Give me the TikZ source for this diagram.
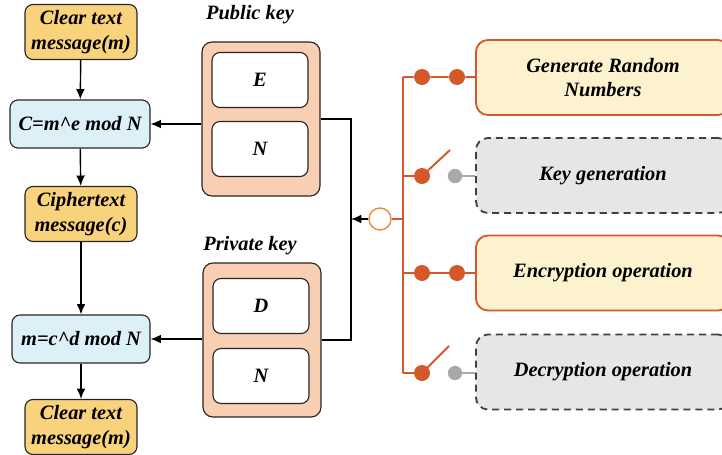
\documentclass[tikz,border=0pt]{standalone}
\usepackage{fontspec}
\setmainfont{Liberation Serif}[BoldItalicFont={Liberation Serif Bold Italic}]
\usetikzlibrary{arrows.meta}

\definecolor{msgyellow}{HTML}{F9D27C}
\definecolor{mathblue}{HTML}{DDEFF7}
\definecolor{keypeach}{HTML}{F8CFB2}
\definecolor{oporange}{HTML}{D4582A}
\definecolor{hubor}{HTML}{EE8A3C}
\definecolor{opyellow}{HTML}{FDF2CE}
\definecolor{opgray}{HTML}{E6E6E6}
\definecolor{dotgray}{HTML}{A9A9A9}

\begin{document}
\begin{tikzpicture}[
				x=0.025cm, y=-0.025cm,
				every node/.style={font=\fontsize{14.5}{17.5}\selectfont\bfseries\itshape, align=center},
				msgbox/.style={draw=black!85, line width=0.8pt, fill=msgyellow, rounded corners=0.2cm, minimum width=2.8cm, minimum height=1.375cm, inner sep=0pt},
				mathbox/.style={draw=black!85, line width=0.8pt, fill=mathblue, rounded corners=0.2cm, minimum height=1.2cm, inner sep=0pt},
				keybox/.style={draw=black!85, line width=0.8pt, fill=keypeach, rounded corners=0.25cm, minimum width=2.95cm, minimum height=3.85cm, inner sep=0pt},
				keyfield/.style={draw=black!85, line width=0.8pt, fill=white, rounded corners=0.2cm, minimum width=2.4cm, minimum height=1.375cm, inner sep=0pt},
				stepon/.style={draw=oporange, line width=1.3pt, fill=opyellow, rounded corners=0.3cm, minimum width=6.35cm, minimum height=1.875cm},
				stepoff/.style={draw=black!75, dash pattern=on 5pt off 3.5pt, line width=1.3pt, fill=opgray, rounded corners=0.3cm, minimum width=6.35cm, minimum height=1.875cm},
				ondot/.style={circle, fill=oporange, minimum size=0.4cm, inner sep=0pt},
				offdot/.style={circle, fill=dotgray, minimum size=0.36cm, inner sep=0pt},
				link/.style={line width=1pt},
				tip/.style={-{Latex[length=2.6mm, width=2.2mm]}},
				wire/.style={draw=oporange, line width=1.4pt},
				gwire/.style={draw=dotgray, line width=1pt},
			]
			\useasboundingbox (0,0) rectangle (722,454);

			% message flow
			\node[msgbox] (clr1) at (81,32) {Clear text\\message(m)};
			\node[mathbox, minimum width=3.5cm] (enc) at (80,124) {C=m\textasciicircum{}e mod N};
			\node[msgbox] (ciph) at (81,214) {Ciphertext\\message(c)};
			\node[mathbox, minimum width=3.45cm] (dec) at (81,339) {m=c\textasciicircum{}d mod N};
			\node[msgbox] (clr2) at (81,427) {Clear text\\message(m)};
			\draw[link, tip] (clr1) -- (enc);
			\draw[link, tip] (enc) -- (ciph);
			\draw[link, tip] (ciph) -- (dec);
			\draw[link, tip] (dec) -- (clr2);

			% keys
			\node (publbl) at (250,15) {Public key};
			\node[keybox] (pub) at (261,119) {};
			\node[keyfield] (fe) at (260,80) {E};
			\node[keyfield] (fn1) at (260,149) {N};
			\node (privlbl) at (250,246) {Private key};
			\node[keybox] (priv) at (262,340) {};
			\node[keyfield] (fd) at (261,306) {D};
			\node[keyfield] (fn2) at (261,376) {N};
			\draw[link, tip] (pub.west |- enc) -- (enc.east);
			\draw[link, tip] (priv.west |- dec) -- (dec.east);

			% operations
			\coordinate (jn) at (351,219);
			\node[circle, draw=hubor, line width=1pt, fill=white, minimum size=0.55cm, inner sep=0pt] (hub) at (380,219) {};
			\draw[link] (pub.east) -| (jn) |- (priv.east);
			\draw[link, tip] (hub) -- (jn);
			\coordinate (bt) at (403,77);
			\coordinate (bb) at (403,373);
			\draw[wire] (bt) -- (bb);
			\draw[wire] (hub) -- (hub -| bt);

			\node[stepon] (rnd) at (603,77.5) {Generate Random\\Numbers};
			\node[stepoff] (keyg) at (603,175.5) {Key generation};
			\node[stepon] (encop) at (603,273) {Encryption operation};
			\node[stepoff] (decop) at (603,372) {Decryption operation};

			\node[ondot] (d1a) at (422,77) {};
			\node[ondot] (d1b) at (457,77) {};
			\draw[wire] (bt) -- (d1a) -- (d1b) -- (rnd);

			\node[ondot] (d2a) at (422,176) {};
			\node[offdot] (d2b) at (455,176) {};
			\coordinate (lev2) at (450,150);
			\draw[wire] (bt |- d2a) -- (d2a);
			\draw[wire] (d2a.center) -- (lev2);
			\draw[gwire] (d2b) -- (d2b -| keyg.west);

			\node[ondot] (d3a) at (422,273) {};
			\node[ondot] (d3b) at (457,273) {};
			\draw[wire] (bt |- d3a) -- (d3a) -- (d3b) -- (encop);

			\node[ondot] (d4a) at (422,373) {};
			\node[offdot] (d4b) at (455,373) {};
			\coordinate (lev4) at (449,346);
			\draw[wire] (bb) -- (d4a);
			\draw[wire] (d4a.center) -- (lev4);
			\draw[gwire] (d4b) -- (d4b -| decop.west);
		\end{tikzpicture}
\end{document}
